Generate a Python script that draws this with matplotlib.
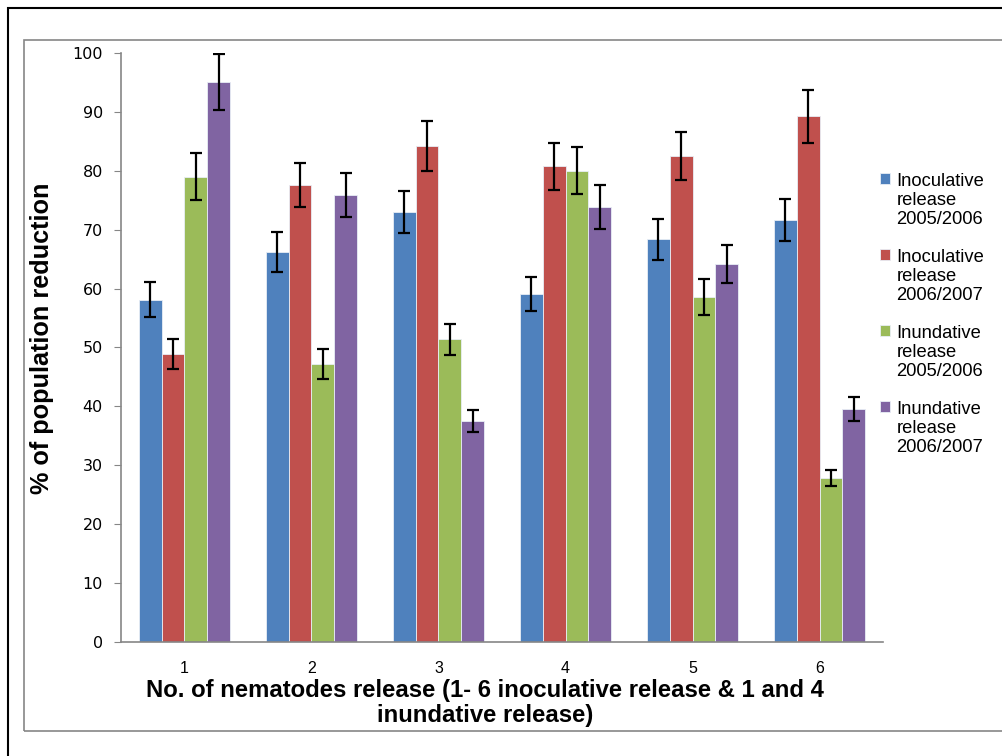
import matplotlib.pyplot as plt
import matplotlib.patches as mpatches
from matplotlib.legend_handler import HandlerPatch
import numpy as np

releases = ["1", "2", "3", "4", "5", "6"]
series = [
    "Inoculative\nrelease\n2005/2006",
    "Inoculative\nrelease\n2006/2007",
    "Inundative\nrelease\n2005/2006",
    "Inundative\nrelease\n2006/2007",
]
inoc_0506 = [58.1, 66.2, 73.0, 59.1, 68.4, 71.6]
inoc_0607 = [48.9, 77.6, 84.2, 80.8, 82.5, 89.3]
inund_0506 = [79.0, 47.2, 51.4, 80.0, 58.6, 27.8]
inund_0607 = [95.1, 75.9, 37.5, 73.9, 64.2, 39.6]
err_inoc_0506 = [3.0, 3.4, 3.6, 2.9, 3.5, 3.6]
err_inoc_0607 = [2.5, 3.8, 4.3, 4.0, 4.1, 4.5]
err_inund_0506 = [4.0, 2.5, 2.6, 4.0, 3.0, 1.4]
err_inund_0607 = [4.7, 3.8, 1.9, 3.75, 3.2, 2.0]

values = [inoc_0506, inoc_0607, inund_0506, inund_0607]
errors = [err_inoc_0506, err_inoc_0607, err_inund_0506, err_inund_0607]
colors = ["#4F81BD", "#C0504D", "#9BBB59", "#8064A2"]

SANS = ["Liberation Sans", "DejaVu Sans"]


def top_square(legend, orig_handle, xdescent, ydescent, width, height, fontsize):
    # legend square sits next to the first line of the label, not its middle
    return mpatches.Rectangle((-xdescent, -ydescent + fontsize * 1.22), width, height)


fig = plt.figure(figsize=(10.03, 7.56), dpi=100)

# outer black frame and inner grey chart frame
fig.patches.append(mpatches.Rectangle((0.008, -0.1), 1.2, 0.99 + 0.1, transform=fig.transFigure,
                                      fill=False, edgecolor="black", linewidth=1.5))
fig.patches.append(mpatches.Rectangle((0.024, 0.033), 1.2, 0.947 - 0.033, transform=fig.transFigure,
                                      fill=False, edgecolor="#868686", linewidth=1.2))

ax = fig.add_axes([0.1206, 0.1508, 0.7598, 0.7791])
x = np.arange(len(releases))
w = 0.18
bars = []
for i in range(4):
    b = ax.bar(x + (i - 1.5) * w, values[i], w, color=colors[i], edgecolor="#e8eef6", linewidth=0.6,
               yerr=errors[i], capsize=4,
               error_kw=dict(ecolor="black", elinewidth=1.6, capthick=1.6))
    bars.append(b.patches[0])

ax.set_xlim(-0.5, 5.5)
ax.set_ylim(0, 100)
ax.set_yticks(range(0, 101, 10))
ax.set_xticks(x)
ax.set_xticklabels(releases, fontsize=11.5, family=SANS)
ax.tick_params(axis="x", length=0, pad=14)
ax.tick_params(axis="y", length=5, color="#868686", labelsize=11.5, pad=8)
for s in ["top", "right"]:
    ax.spines[s].set_visible(False)
for s in ["left", "bottom"]:
    ax.spines[s].set_color("#868686")
    ax.spines[s].set_linewidth(1.2)

ax.set_ylabel("% of population reduction", fontsize=18.2, fontweight="bold", family=SANS)
ax.yaxis.set_label_coords(-0.088, 0.516)
ax.set_xlabel("No. of nematodes release (1- 6 inoculative release & 1 and 4\ninundative release)",
              fontsize=17.2, fontweight="bold", family=SANS, linespacing=1.12)
ax.xaxis.set_label_coords(0.478, -0.063)

leg = fig.legend(bars, series, loc="upper left", bbox_to_anchor=(0.861, 0.793), frameon=False,
                 handlelength=0.55, handleheight=0.55, handletextpad=0.35, labelspacing=1.15,
                 prop={"family": SANS, "size": 13.2},
                 handler_map={mpatches.Rectangle: HandlerPatch(patch_func=top_square)})
for t in leg.get_texts():
    t.set_linespacing(1.15)

plt.savefig("out.png", dpi=100)
